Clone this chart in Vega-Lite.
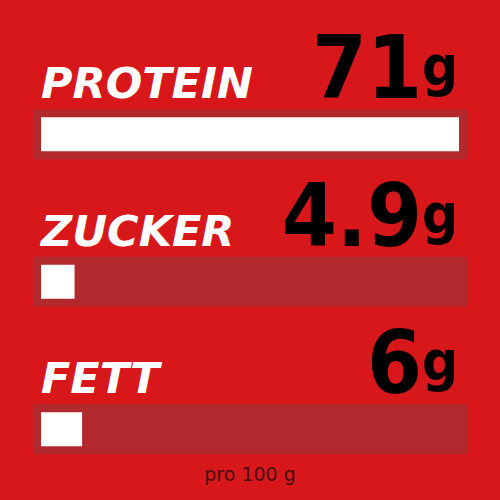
{
  "$schema": "https://vega.github.io/schema/vega-lite/v6.json",
  "width": 418,
  "height": 500,
  "autosize": {"type": "none"},
  "padding": {"left": 41, "right": 41, "top": 0, "bottom": 0},
  "background": "#d8171a",
  "config": {"view": {"stroke": null}},
  "data": {"values": [
    {"nutrient": "PROTEIN", "value": 71, "label": "71", "unit": "g"},
    {"nutrient": "ZUCKER", "value": 4.9, "label": "4.9", "unit": "g"},
    {"nutrient": "FETT", "value": 6, "label": "6", "unit": "g"}
  ]},
  "encoding": {
    "y": {"field": "nutrient", "type": "nominal", "sort": ["PROTEIN", "ZUCKER", "FETT"], "axis": null,
          "scale": {"range": [60.5, 503], "paddingInner": 0, "paddingOuter": 0}}
  },
  "layer": [
    {
      "mark": {"type": "bar", "height": 34, "fill": "#b1292d", "stroke": "#b1292d", "strokeWidth": 16},
      "encoding": {
        "x": {"datum": 0, "type": "quantitative", "scale": {"domain": [0, 61], "clamp": true, "nice": false, "zero": false}, "axis": null},
        "x2": {"datum": 61}
      }
    },
    {
      "mark": {"type": "bar", "height": 34, "fill": "#ffffff"},
      "encoding": {
        "x": {"field": "value", "type": "quantitative", "scale": {"domain": [0, 61], "clamp": true, "nice": false, "zero": false}, "axis": null}
      }
    },
    {
      "mark": {"type": "text", "align": "left", "baseline": "alphabetic", "dy": -36, "font": "DejaVu Sans", "fontSize": 43, "fontWeight": "bold", "fontStyle": "italic", "fill": "#ffffff"},
      "encoding": {
        "x": {"datum": 0, "type": "quantitative"},
        "text": {"field": "nutrient"}
      }
    },
    {
      "mark": {"type": "text", "align": "right", "baseline": "alphabetic", "dx": -37, "dy": -36, "font": "DejaVu Sans Condensed, Roboto, sans-serif", "fontSize": 88, "fontWeight": "bold", "fill": "#000000"},
      "encoding": {
        "x": {"datum": 61, "type": "quantitative"},
        "text": {"field": "label"}
      }
    },
    {
      "mark": {"type": "text", "align": "right", "baseline": "alphabetic", "dx": -1, "dy": -49, "font": "DejaVu Sans Condensed, Roboto, sans-serif", "fontSize": 56, "fontWeight": "bold", "fill": "#000000"},
      "encoding": {
        "x": {"datum": 61, "type": "quantitative"},
        "text": {"field": "unit"}
      }
    },
    {
      "data": {"values": [{"note": "pro 100 g"}]},
      "mark": {"type": "text", "align": "center", "baseline": "alphabetic", "dy": 52, "font": "DejaVu Sans", "fontSize": 19, "fill": "#4a0e10"},
      "encoding": {
        "x": {"datum": 30.5, "type": "quantitative"},
        "y": {"datum": "FETT", "type": "nominal"},
        "text": {"field": "note"}
      }
    }
  ]
}
